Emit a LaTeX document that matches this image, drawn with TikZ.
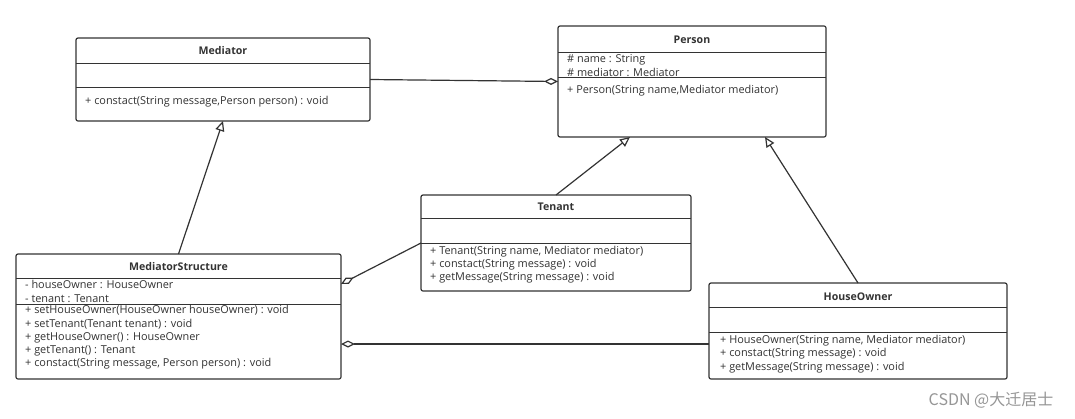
\documentclass[tikz,border=0pt]{standalone}
\usepackage{fontspec}
\setmainfont{Open Sans}
\newfontfamily\cjk{Noto Sans CJK SC}
\usetikzlibrary{arrows.meta,calc}
\definecolor{ink}{RGB}{51,51,51}
\definecolor{mark_gray}{RGB}{150,150,150}
\tikzset{
	classbox/.style={draw=ink,line width=1.2pt,rounded corners=2pt,fill=white,inner sep=0pt,outer sep=0pt},
	title/.style={font=\bfseries\fontsize{10.6}{12}\selectfont,text=ink},
	members/.style={font=\fontsize{10.9}{13.2}\selectfont,text=ink,align=left,anchor=west,inner sep=0pt},
	inherit/.style={draw=ink,line width=1.2pt,-{Triangle[open,length=10pt,width=9pt]}},
	aggr/.style={draw=ink,line width=1.2pt,-{Diamond[open,length=14pt,width=7pt]}}
}
\begin{document}
\begin{tikzpicture}[x=1pt,y=-1pt]
	\useasboundingbox[fill=white] (0,0) rectangle (1075,418);

	% classes
	\node[classbox,minimum width=294pt,minimum height=83pt] (mediator) at (223,79.5) {};
	\node[classbox,minimum width=268pt,minimum height=111pt] (person) at (692,81.5) {};
	\node[classbox,minimum width=270pt,minimum height=96pt] (tenant) at (556,243) {};
	\node[classbox,minimum width=325pt,minimum height=125pt] (mstruct) at (178.5,316.5) {};
	\node[classbox,minimum width=298pt,minimum height=96pt] (owner) at (858,331) {};

	% dividers
	\foreach \n/\a/\b in {mediator/63/87,person/52/77,tenant/218/243,mstruct/278/304,owner/307/332}{
		\draw[ink,line width=1pt] (\n.west |- 0,\a) -- (\n.east |- 0,\a);
		\draw[ink,line width=1pt] (\n.west |- 0,\b) -- (\n.east |- 0,\b);
	}

	% titles
	\node[title] (mediator_t) at (223,51) {Mediator};
	\node[title] (person_t) at (692,40) {Person};
	\node[title] (tenant_t) at (556,207) {Tenant};
	\node[title] (mstruct_t) at (178.5,267) {MediatorStructure};
	\node[title] (owner_t) at (858,297) {HouseOwner};

	% members
	\node[members] (mediator_m) at (85,102) {+ constact(String message,Person person) : void};
	\node[members] (person_a) at (567,65.5) {\# name : String\\\# mediator : Mediator};
	\node[members] (person_m) at (567,91) {+ Person(String name,Mediator mediator)};
	\node[members] (tenant_m) at (430,264.5) {+ Tenant(String name, Mediator mediator)\\+ constact(String message) : void\\+ getMessage(String message) : void};
	\node[members] (mstruct_a) at (25,291.5) {- houseOwner : HouseOwner\\- tenant : Tenant};
	\node[members] (mstruct_m) at (25,337.5) {+ setHouseOwner(HouseOwner houseOwner) : void\\+ setTenant(Tenant tenant) : void\\+ getHouseOwner() : HouseOwner\\+ getTenant() : Tenant\\+ constact(String message, Person person) : void};
	\node[members] (owner_m) at (720,354) {+ HouseOwner(String name, Mediator mediator)\\+ constact(String message) : void\\+ getMessage(String message) : void};

	% relations
	\draw[inherit] (mstruct.north) -- (mediator.south);
	\draw[inherit] (tenant.north) -- ($(person.south)+(-62,0)$);
	\draw[inherit] (owner.north) -- ($(person.south)+(73,0)$);
	\draw[aggr] (mediator.east) -- (person.west);
	\draw[aggr] (tenant.west) -- ($(mstruct.east)+(0,-32.5)$);
	\draw[aggr] ($(owner.west)+(0,13)$) -- ($(mstruct.east)+(0,27.5)$);

	\node[text=mark_gray,font=\cjk\fontsize{16}{18}\selectfont] (mark) at (991,400) {CSDN @大迁居士};
\end{tikzpicture}
\end{document}
